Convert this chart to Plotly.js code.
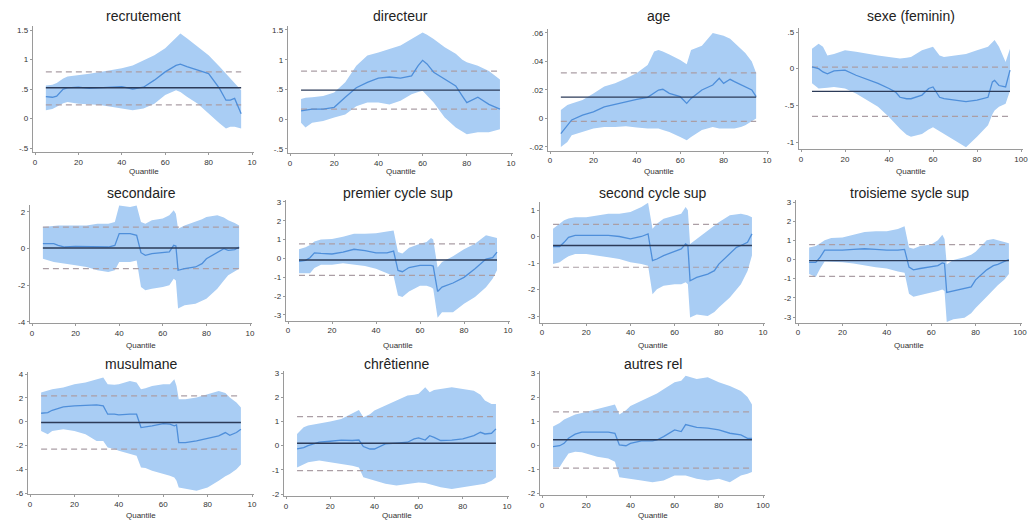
<!DOCTYPE html>
<html><head><meta charset="utf-8">
<script src="https://cdn.plot.ly/plotly-3.0.1.min.js"></script>
<style>html,body{margin:0;padding:0;background:#fff}#chart{width:1030px;height:520px}</style>
</head><body><div id="chart"></div>
<script>
// ---------------- DATA (quantile, coefficient, lower CI, upper CI, OLS [coef, lo, hi]) ----------------
const titles = ['recrutement','directeur','age','sexe (feminin)','secondaire','premier cycle sup','second cycle sup','troisieme sycle sup','musulmane','chrêtienne','autres rel'];

const qRecrut  = [5,8,10,13,15,20,25,30,35,40,45,50,55,60,65,67,70,75,80,85,88,90,92,95];
const bRecrut  = [0.37,0.36,0.38,0.5,0.52,0.53,0.51,0.52,0.53,0.54,0.5,0.53,0.65,0.79,0.9,0.92,0.88,0.82,0.76,0.51,0.31,0.31,0.34,0.08];
const loRecrut = [0.14,0.16,0.2,0.26,0.28,0.25,0.24,0.23,0.2,0.17,0.14,0.17,0.25,0.4,0.48,0.45,0.37,0.25,0.08,-0.08,-0.17,-0.14,-0.14,-0.17];
const hiRecrut = [0.56,0.57,0.6,0.68,0.71,0.73,0.76,0.79,0.82,0.85,0.9,0.99,1.07,1.19,1.38,1.44,1.36,1.21,1.07,0.88,0.76,0.68,0.6,0.48];
const olsRecrut = [0.52,0.23,0.79];

const qDir  = [5,7,10,15,20,25,30,35,40,45,50,55,58,60,62,65,70,75,78,80,85,90,95];
const bDir  = [0.14,0.15,0.17,0.17,0.2,0.37,0.53,0.62,0.69,0.71,0.69,0.73,0.9,0.99,0.93,0.79,0.67,0.56,0.39,0.28,0.37,0.25,0.17];
const loDir = [-0.06,-0.14,-0.06,-0.03,0.03,0.08,0.22,0.28,0.28,0.25,0.31,0.42,0.46,0.48,0.4,0.28,0.03,-0.14,-0.2,-0.25,-0.22,-0.22,-0.17];
const hiDir = [0.34,0.36,0.37,0.39,0.45,0.62,0.9,1.07,1.12,1.18,1.24,1.35,1.42,1.46,1.42,1.35,1.21,1.1,1.0,0.96,0.9,0.81,0.67];
const olsDir = [0.49,0.17,0.81];

const qAge  = [5,8,10,15,20,25,30,35,40,45,48,50,52,55,60,63,65,70,75,78,80,83,85,88,90,93,95];
const bAge  = [-0.0106,-0.0047,-0.001,0.0024,0.0047,0.0082,0.010,0.0118,0.0134,0.0148,0.018,0.020,0.0205,0.0176,0.0153,0.0106,0.0141,0.020,0.0235,0.0282,0.0247,0.0275,0.0259,0.0235,0.0224,0.020,0.0153];
const loAge = [-0.02,-0.0165,-0.0118,-0.0094,-0.007,-0.006,-0.006,-0.0054,-0.0064,-0.007,-0.007,-0.007,-0.008,-0.0094,-0.013,-0.0153,-0.013,-0.008,-0.006,-0.007,-0.007,-0.007,-0.007,-0.006,-0.0047,-0.002,0];
const hiAge = [0.0059,0.0094,0.0106,0.0129,0.0176,0.0224,0.0247,0.028,0.032,0.0376,0.047,0.048,0.047,0.045,0.041,0.038,0.048,0.051,0.060,0.059,0.058,0.056,0.053,0.049,0.046,0.04,0.032];
const olsAge = [0.015,-0.002,0.032];

const qSexe  = [5,8,10,12,15,20,25,30,35,40,43,45,48,50,55,58,60,63,65,70,75,80,85,87,88,90,93,95];
const bSexe  = [0.023,0,-0.045,-0.07,-0.03,-0.02,-0.09,-0.14,-0.2,-0.27,-0.32,-0.39,-0.41,-0.41,-0.36,-0.27,-0.25,-0.39,-0.41,-0.43,-0.45,-0.43,-0.39,-0.18,-0.16,-0.23,-0.25,-0.02];
const loSexe = [-0.2,-0.27,-0.27,-0.26,-0.25,-0.27,-0.34,-0.43,-0.52,-0.66,-0.75,-0.82,-0.9,-0.93,-0.89,-0.83,-0.8,-0.86,-0.89,-0.98,-1.07,-0.93,-0.77,-0.62,-0.57,-0.52,-0.48,-0.3];
const hiSexe = [0.27,0.34,0.3,0.18,0.2,0.25,0.23,0.2,0.18,0.16,0.15,0.14,0.15,0.16,0.25,0.28,0.3,0.18,0.16,0.18,0.2,0.25,0.3,0.36,0.39,0.3,0.09,0.27];
const olsSexe = [-0.31,-0.65,0.02];

const qSec  = [5,10,12,15,20,25,30,35,38,40,45,48,50,52,55,60,63,65,66,67,70,75,78,80,85,88,90,93,95];
const bSec  = [0.27,0.27,0.18,0.09,0.13,0.13,0.13,0.09,0.18,0.82,0.82,0.73,-0.22,-0.36,-0.27,-0.22,-0.18,0.18,0.15,-1.18,-1.09,-1.0,-0.82,-0.55,-0.18,0,-0.09,-0.05,0.09];
const loSec = [-0.55,-0.73,-0.78,-0.82,-0.91,-1.0,-1.18,-1.27,-1.18,-0.73,-0.73,-0.64,-2.09,-2.27,-2.18,-2.09,-2.0,-1.64,-1.73,-3.27,-3.09,-3.0,-2.85,-2.73,-2.18,-1.73,-1.45,-1.25,-1.09];
const hiSec = [1.18,1.27,1.27,1.27,1.27,1.27,1.36,1.36,1.45,2.36,2.27,2.36,1.45,1.36,1.55,1.64,1.82,2.09,1.9,1.09,1.27,1.45,1.6,1.73,1.82,1.7,1.55,1.4,1.27];
const olsSec = [0.04,-1.09,1.18];

const qPrem  = [5,8,10,12,15,20,25,30,35,40,45,48,50,52,55,60,63,65,66,68,70,75,80,85,90,93,95];
const bPrem  = [-0.15,-0.1,0.04,0.3,0.27,0.24,0.34,0.49,0.42,0.3,0.3,0.39,-0.63,-0.7,-0.48,-0.36,-0.36,-0.36,-0.4,-1.75,-1.52,-1.3,-1.0,-0.55,-0.03,0.04,0.34];
const loPrem = [-0.78,-0.78,-0.78,-0.5,-0.33,-0.33,-0.25,-0.33,-0.4,-0.55,-0.78,-0.93,-1.97,-2.04,-1.75,-1.45,-1.45,-1.52,-1.6,-3.15,-2.85,-2.85,-2.4,-2.04,-1.52,-1.07,-0.63];
const hiPrem = [0.49,0.6,0.72,0.9,1.01,1.04,1.16,1.31,1.31,1.34,1.43,1.49,0.34,0.27,0.57,0.79,0.87,1.09,1.01,-0.48,-0.18,0.12,0.49,0.79,1.24,1.16,1.09];
const olsPrem = [-0.08,-0.9,0.78];

const qSecd  = [5,8,10,12,15,20,25,30,35,40,45,48,50,52,55,60,63,65,66,67,70,75,78,80,85,88,90,93,95];
const bSecd  = [-0.38,-0.38,-0.22,-0.03,0.04,0.04,0.04,0.04,0,-0.09,0,0.1,-0.91,-0.85,-0.72,-0.56,-0.47,-0.28,-0.34,-1.67,-1.54,-1.42,-1.29,-1.04,-0.66,-0.41,-0.34,-0.22,0.1];
const loSecd = [-1.04,-0.97,-0.85,-0.75,-0.66,-0.66,-0.72,-0.78,-0.85,-0.97,-1.04,-1.1,-2.18,-1.99,-1.86,-1.8,-1.8,-1.73,-1.8,-3.06,-2.94,-3.0,-2.85,-2.68,-2.3,-2.0,-1.8,-1.3,-0.72];
const hiSecd = [0.29,0.48,0.61,0.68,0.73,0.73,0.8,0.86,0.86,0.92,1.11,1.27,0.29,0.48,0.67,0.8,0.86,1.11,0.99,-0.28,-0.09,0.23,0.4,0.54,0.8,0.85,0.86,0.8,0.73];
const olsSecd = [-0.34,-1.16,0.46];

const qTroi  = [5,8,10,12,15,20,25,30,35,40,45,48,50,52,55,60,63,65,66,67,70,75,78,80,85,88,90,93,95];
const bTroi  = [-0.15,-0.15,0.12,0.49,0.49,0.49,0.53,0.56,0.53,0.49,0.49,0.53,-0.4,-0.54,-0.47,-0.4,-0.32,-0.18,-0.21,-1.72,-1.65,-1.5,-1.43,-1.06,-0.54,-0.32,-0.25,-0.1,0];
const loTroi = [-0.76,-0.91,-0.47,-0.1,-0.1,-0.15,-0.21,-0.29,-0.4,-0.47,-0.62,-0.69,-1.79,-1.94,-1.87,-1.72,-1.65,-1.57,-1.65,-3.26,-3.12,-3.04,-2.8,-2.53,-1.94,-1.6,-1.35,-1.05,-0.76];
const hiTroi = [0.63,0.71,0.85,1.0,1.12,1.15,1.29,1.44,1.47,1.47,1.59,1.74,0.63,0.56,0.71,0.78,1.0,1.29,1.07,-0.25,-0.03,0.12,0.25,0.41,1.0,1.07,1.0,0.9,0.85];
const olsTroi = [-0.06,-0.88,0.78];

const qMus  = [5,8,10,15,20,25,30,33,35,38,40,45,48,50,52,55,60,63,65,66,67,70,75,80,85,88,90,93,95];
const bMus  = [0.7,0.76,0.95,1.23,1.32,1.37,1.4,1.32,0.62,0.62,0.56,0.62,0.62,-0.5,-0.45,-0.36,-0.17,-0.22,-0.36,-0.28,-1.76,-1.76,-1.62,-1.4,-1.2,-0.92,-1.15,-0.92,-0.64];
const loMus = [-0.78,-1.06,-0.78,-0.64,-0.78,-1.06,-1.62,-1.62,-2.18,-2.3,-2.46,-2.74,-2.88,-3.86,-3.9,-4.14,-4.42,-4.56,-4.7,-4.98,-5.54,-5.68,-5.82,-5.54,-4.98,-4.6,-4.4,-4.0,-3.6];
const hiMus = [2.44,2.58,2.72,2.86,3.14,3.28,3.56,3.7,3.14,3.1,3.14,3.42,3.28,2.72,2.8,3.0,3.14,3.14,3.56,3.0,1.88,1.88,2.02,2.3,2.58,2.4,2.02,1.6,1.18];
const olsMus = [-0.08,-2.32,2.16];

const qChr  = [5,8,10,15,20,25,30,33,35,38,40,45,50,55,58,60,63,65,67,70,75,80,85,88,90,93,95];
const bChr  = [-0.14,-0.08,0,0.14,0.18,0.23,0.21,0.23,-0.04,-0.14,-0.14,0.07,0.1,0.14,0.28,0.32,0.23,0.41,0.34,0.21,0.23,0.28,0.41,0.55,0.48,0.51,0.69];
const loChr = [-0.9,-0.78,-0.69,-0.62,-0.69,-0.76,-0.83,-0.9,-1.31,-1.4,-1.45,-1.58,-1.65,-1.58,-1.55,-1.52,-1.55,-1.58,-1.65,-1.72,-1.79,-1.72,-1.65,-1.6,-1.58,-1.45,-1.31];
const hiChr = [0.48,0.76,0.83,0.9,1.0,1.1,1.31,1.47,1.17,1.3,1.45,1.65,1.86,2.07,2.1,2.14,2.41,2.2,2.3,2.34,2.41,2.34,2.27,2.1,1.86,1.72,1.72];
const olsChr = [0.1,-1.03,1.2];

const qAut  = [5,8,10,12,15,18,20,25,30,33,35,38,40,45,50,52,55,60,63,65,70,75,80,85,90,93,95];
const bAut  = [-0.07,-0.03,0.07,0.28,0.45,0.54,0.54,0.54,0.54,0.49,0,-0.03,0.07,0.17,0.17,0.21,0.35,0.63,0.56,0.85,0.73,0.7,0.63,0.49,0.42,0.28,0.28];
const loAut = [-0.92,-0.92,-0.63,-0.35,-0.28,-0.3,-0.35,-0.49,-0.56,-0.7,-1.34,-1.38,-1.41,-1.48,-1.55,-1.52,-1.48,-1.27,-1.27,-1.27,-1.41,-1.48,-1.41,-1.55,-1.27,-1.2,-1.13];
const hiAut = [0.77,0.92,1.06,1.15,1.27,1.33,1.38,1.48,1.62,1.69,1.27,1.45,1.62,1.83,2.04,2.15,2.32,2.61,2.68,2.89,2.75,2.82,2.61,2.46,2.25,2.0,1.69];
const olsAut = [0.22,-0.96,1.38];

const xTickVals = [0,20,40,60,80,100];
const xTickTextCut  = ['0','20','40','60','80','10'];
const xTickTextFull = ['0','20','40','60','80','100'];
const yTicks = [
  {v:[-0.5,0,0.5,1,1.5], t:['-.5','0','.5','1','1.5']},
  {v:[-0.5,0,0.5,1,1.5], t:['-.5','0','.5','1','1.5']},
  {v:[-0.02,0,0.02,0.04,0.06], t:['-.02','0','.02','.04','.06']},
  {v:[-1,-0.5,0,0.5], t:['-1','-.5','0','.5']},
  {v:[-4,-2,0,2], t:['-4','-2','0','2']},
  {v:[-3,-2,-1,0,1,2,3], t:['-3','-2','-1','0','1','2','3']},
  {v:[-3,-2,-1,0,1], t:['-3','-2','-1','0','1']},
  {v:[-3,-2,-1,0,1,2,3], t:['-3','-2','-1','0','1','2','3']},
  {v:[-6,-4,-2,0,2,4], t:['-6','-4','-2','0','2','4']},
  {v:[-2,-1,0,1,2,3], t:['-2','-1','0','1','2','3']},
  {v:[-2,-1,0,1,2,3], t:['-2','-1','0','1','2','3']}
];

const series = [
  [qRecrut,bRecrut,loRecrut,hiRecrut,olsRecrut],
  [qDir,bDir,loDir,hiDir,olsDir],
  [qAge,bAge,loAge,hiAge,olsAge],
  [qSexe,bSexe,loSexe,hiSexe,olsSexe],
  [qSec,bSec,loSec,hiSec,olsSec],
  [qPrem,bPrem,loPrem,hiPrem,olsPrem],
  [qSecd,bSecd,loSecd,hiSecd,olsSecd],
  [qTroi,bTroi,loTroi,hiTroi,olsTroi],
  [qMus,bMus,loMus,hiMus,olsMus],
  [qChr,bChr,loChr,hiChr,olsChr],
  [qAut,bAut,loAut,hiAut,olsAut]
];

// ---------------- GEOMETRY (pixel placement of each panel) ----------------
const W = 1030, H = 520;
const geom = [
  {x0:35,  x100:252,  yv1:1.5,  yp1:30,  yv2:-0.5, yp2:148, yr:[-0.57,1.57], row:0, full:false},
  {x0:290, x100:511,  yv1:1.5,  yp1:30,  yv2:-0.5, yp2:149, yr:[-0.57,1.57], row:0, full:false},
  {x0:550, x100:767,  yv1:0.06, yp1:33,  yv2:-0.02,yp2:147, yr:[-0.0225,0.0625], row:0, full:false},
  {x0:801, x100:1021, yv1:0.5,  yp1:32,  yv2:-1,   yp2:142, yr:[-1.1,0.56], row:0, full:true},
  {x0:32,  x100:250,  yv1:2,    yp1:212, yv2:-4,   yp2:322, yr:[-4.05,2.4], row:1, full:false},
  {x0:288, x100:508,  yv1:3,    yp1:202, yv2:-3,   yp2:315, yr:[-3.3,3.1], row:1, full:false},
  {x0:542, x100:763,  yv1:1,    yp1:210, yv2:-3,   yp2:316, yr:[-3.25,1.3], row:1, full:false},
  {x0:798, x100:1020, yv1:3,    yp1:202, yv2:-3,   yp2:317, yr:[-3.3,3.1], row:1, full:true},
  {x0:30,  x100:252,  yv1:4,    yp1:374, yv2:-6,   yp2:493, yr:[-6.1,4.2], row:2, full:false},
  {x0:286, x100:507,  yv1:3,    yp1:373, yv2:-2,   yp2:494, yr:[-2.1,3.1], row:2, full:false},
  {x0:542, x100:763,  yv1:3,    yp1:373, yv2:-2,   yp2:493, yr:[-2.1,3.1], row:2, full:true}
];
const titleY = [16, 193, 364];
const quantY = [172, 345, 515];

const BAND = '#a9cdf4', COEF = '#4f8fda', OLS = '#2c3b58', OLSCI = '#ab9ea5';
const FONT = 'Liberation Sans, Arial, sans-serif';

const traces = [];
const layout = {
  width: W, height: H, margin: {l:0, r:0, t:0, b:0},
  paper_bgcolor: '#fff', plot_bgcolor: '#fff', showlegend: false,
  font: {family: FONT}, annotations: []
};

series.forEach((s, i) => {
  const [q, b, lo, hi, ols] = s;
  const g = geom[i];
  const sfx = i === 0 ? '' : String(i + 1);
  const xa = 'x' + sfx, ya = 'y' + sfx;
  const qStart = q[0], qEnd = q[q.length - 1];

  traces.push({x: q.concat(q.slice().reverse()), y: hi.concat(lo.slice().reverse()),
    xaxis: xa, yaxis: ya, mode: 'lines', fill: 'toself', fillcolor: BAND,
    line: {width: 0, color: BAND}, hoverinfo: 'skip'});
  traces.push({x: [qStart, qEnd], y: [ols[2], ols[2]], xaxis: xa, yaxis: ya, mode: 'lines',
    line: {color: OLSCI, width: 1.2, dash: '6px,4px'}, hoverinfo: 'skip'});
  traces.push({x: [qStart, qEnd], y: [ols[1], ols[1]], xaxis: xa, yaxis: ya, mode: 'lines',
    line: {color: OLSCI, width: 1.2, dash: '6px,4px'}, hoverinfo: 'skip'});
  traces.push({x: q, y: b, xaxis: xa, yaxis: ya, mode: 'lines',
    line: {color: COEF, width: 1.3}});
  traces.push({x: [qStart, qEnd], y: [ols[0], ols[0]], xaxis: xa, yaxis: ya, mode: 'lines',
    line: {color: OLS, width: 1.4}, hoverinfo: 'skip'});

  const xr = [-1, 101];
  const xpx = v => g.x0 + (g.x100 - g.x0) * v / 100;
  const ypx = v => g.yp1 + (v - g.yv1) * (g.yp2 - g.yp1) / (g.yv2 - g.yv1);
  const axCommon = {
    showgrid: false, zeroline: false, showline: true, linecolor: '#9a9a9a', linewidth: 1,
    ticks: 'outside', ticklen: 2, tickcolor: '#9a9a9a', tickwidth: 1,
    tickfont: {size: 8, color: '#333', family: FONT}, fixedrange: true
  };
  layout['xaxis' + sfx] = Object.assign({}, axCommon, {
    domain: [Math.max(0, xpx(xr[0]) / W), Math.min(1, xpx(xr[1]) / W)],
    range: xr, anchor: ya, tickmode: 'array', tickvals: xTickVals,
    ticktext: g.full ? xTickTextFull : xTickTextCut
  });
  layout['yaxis' + sfx] = Object.assign({}, axCommon, {
    domain: [1 - ypx(g.yr[0]) / H, 1 - ypx(g.yr[1]) / H],
    range: g.yr, anchor: xa, tickmode: 'array', tickvals: yTicks[i].v, ticktext: yTicks[i].t
  });
  const cx = (g.x0 + g.x100) / 2 / W;
  layout.annotations.push({text: titles[i], xref: 'paper', yref: 'paper', x: cx, y: 1 - titleY[g.row] / H,
    xanchor: 'center', yanchor: 'middle', showarrow: false, font: {size: 14, color: '#222', family: FONT}});
  layout.annotations.push({text: 'Quantile', xref: 'paper', yref: 'paper', x: cx, y: 1 - quantY[g.row] / H,
    xanchor: 'center', yanchor: 'middle', showarrow: false, font: {size: 8, color: '#333', family: FONT}});
});

Plotly.newPlot('chart', traces, layout, {staticPlot: true, displayModeBar: false});
</script>
</body></html>
